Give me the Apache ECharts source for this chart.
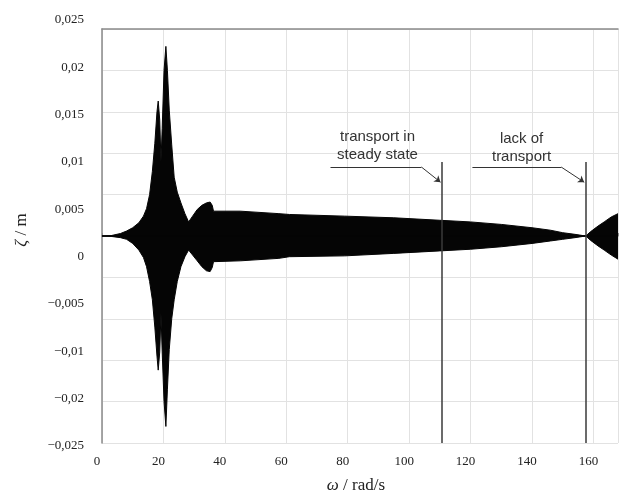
<!DOCTYPE html>
<html><head><meta charset="utf-8">
<script src="https://cdn.jsdelivr.net/npm/echarts@6/dist/echarts.min.js"></script>
<style>html,body{margin:0;padding:0;background:#fff}#c{width:619px;height:494px}</style>
</head><body><div id="c"></div>
<script>
// omega / rad/s
const omega = [0, 3, 6, 8, 10, 12, 13.5, 14.5, 15.5, 16.4, 17.2, 17.9, 18.3, 18.8, 19.2, 19.6, 20.2, 20.8, 21.3, 21.9, 22.7, 23.5, 24.5, 25.7, 27, 28.2, 29.5, 31, 32.5, 34, 35.2, 35.9, 36.3, 36.6, 45, 57.6, 61, 79, 95, 110, 120, 130, 140, 146, 150, 154, 157.5, 159, 161.5, 163.5, 165.8, 168];
// upper envelope of zeta / m
const upper = [0, 0.00005, 0.0003, 0.0006, 0.0010, 0.0016, 0.0024, 0.0033, 0.0050, 0.0078, 0.0112, 0.0150, 0.0163, 0.0140, 0.0090, 0.0130, 0.0200, 0.0229, 0.0200, 0.0152, 0.0110, 0.0071, 0.0053, 0.0040, 0.0027, 0.0017, 0.0024, 0.0032, 0.0037, 0.0040, 0.0041, 0.0037, 0.0030, 0.0032, 0.0030, 0.0027, 0.0026, 0.0024, 0.0022, 0.0019, 0.0017, 0.0014, 0.0010, 0.0007, 0.0004, 0.0002, 0, 0.0005, 0.0012, 0.0017, 0.0023, 0.0027];
// lower envelope of zeta / m
const lower = [0, -0.00005, -0.0002, -0.0004, -0.0009, -0.0017, -0.0026, -0.0037, -0.0055, -0.0077, -0.0110, -0.0145, -0.0162, -0.0140, -0.0093, -0.0140, -0.0200, -0.0230, -0.0185, -0.0137, -0.0100, -0.0077, -0.0055, -0.0037, -0.0025, -0.0017, -0.0023, -0.0030, -0.0037, -0.0042, -0.0043, -0.0038, -0.0031, -0.0033, -0.0030, -0.0027, -0.0025, -0.0024, -0.0021, -0.0018, -0.0016, -0.0013, -0.0009, -0.0006, -0.0004, -0.0002, 0, -0.0005, -0.0012, -0.0017, -0.0023, -0.0028];
// y tick labels (as printed in the original)
const yTickLabels = ['\u22120,025', '\u22120,02', '\u22120,01', '\u22120,005', '0', '0,005', '0,01', '0,015', '0,02', '0,025'];
// annotations
const markers = [110.5, 157.5];
const notes = ['transport in\nsteady state', 'lack of\ntransport'];

const chart = echarts.init(document.getElementById('c'), null, {renderer: 'canvas'});
const serif = '"Liberation Serif", "DejaVu Serif", serif';
const sans = '"Liberation Sans", Arial, sans-serif';
const up = omega.map((x, i) => [x, upper[i]]);
const lo = omega.map((x, i) => [x, lower[i]]);

chart.setOption({
  animation: false,
  backgroundColor: '#fff',
  grid: [
    {left: 102, right: 1, top: 29, bottom: 51, containLabel: false, outerBoundsMode: 'none'},
    {left: 102, right: 1, top: 20, bottom: 48, containLabel: false, outerBoundsMode: 'none'}
  ],
  xAxis: [
    {
      type: 'value', gridIndex: 0, min: 0, max: 168, interval: 20,
      axisLine: {show: true, lineStyle: {color: '#8a8a8a', width: 1.5}},
      axisTick: {show: true, inside: true, length: 3, lineStyle: {color: '#8a8a8a'}},
      splitLine: {show: true, lineStyle: {color: '#e2e2e2', width: 1}},
      axisLabel: {
        color: '#222', fontFamily: serif, fontSize: 13, margin: 12, padding: [0, 10, 0, 0],
        formatter: v => (v > 160 ? '' : String(v))
      },
      name: '{i|\u03c9} / rad/s', nameLocation: 'middle', nameGap: 34,
      nameTextStyle: {color: '#222', fontFamily: serif, fontSize: 17, padding: [0, 8, 0, 0],
        rich: {i: {fontStyle: 'italic', fontFamily: serif, fontSize: 17, color: '#222'}}}
    },
    {
      type: 'value', gridIndex: 0, position: 'top', min: 0, max: 168,
      axisLine: {show: true, lineStyle: {color: '#8a8a8a', width: 1.5}},
      axisTick: {show: false}, axisLabel: {show: false}, splitLine: {show: false}
    },
    {type: 'value', gridIndex: 1, show: false, min: 0, max: 1}
  ],
  yAxis: [
    {
      type: 'value', gridIndex: 0, min: -0.025, max: 0.025, interval: 0.005,
      axisLine: {show: true, lineStyle: {color: '#8a8a8a', width: 1.5}},
      axisTick: {show: false},
      splitLine: {show: true, lineStyle: {color: '#e2e2e2', width: 1}},
      axisLabel: {show: false},
      name: '{i|\u03b6} / m', nameLocation: 'middle', nameGap: 72, nameRotate: 90,
      nameTextStyle: {color: '#222', fontFamily: serif, fontSize: 17, padding: [0, 0, 0, 12],
        rich: {i: {fontStyle: 'italic', fontFamily: serif, fontSize: 17, color: '#222'}}}
    },
    {
      type: 'category', gridIndex: 1, data: yTickLabels, boundaryGap: false,
      axisLine: {show: false}, axisTick: {show: false}, splitLine: {show: false},
      axisLabel: {color: '#222', fontFamily: serif, fontSize: 13, margin: 18, interval: 0}
    }
  ],
  series: [
    {
      type: 'line', xAxisIndex: 0, yAxisIndex: 0, data: up, symbol: 'none', z: 3,
      lineStyle: {color: '#050505', width: 1}, areaStyle: {color: '#050505', opacity: 1},
      markLine: {
        silent: true, symbol: 'none', animation: false, label: {show: false},
        lineStyle: {color: '#050505', width: 1.5, type: 'solid'},
        data: [{yAxis: 0}]
      }
    },
    {
      type: 'line', xAxisIndex: 0, yAxisIndex: 0, data: lo, symbol: 'none', z: 3,
      lineStyle: {color: '#050505', width: 1}, areaStyle: {color: '#050505', opacity: 1}
    },
    {
      type: 'line', xAxisIndex: 0, yAxisIndex: 0, data: [], z: 5,
      markLine: {
        silent: true, symbol: 'none', animation: false,
        label: {show: false},
        lineStyle: {color: '#3a3a3a', width: 1.5, type: 'solid'},
        data: markers.map(m => [{coord: [m, 0.00894]}, {coord: [m, -0.025]}])
      },
      markPoint: {
        silent: true, symbol: 'circle', symbolSize: 0,
        label: {show: true, formatter: '{b}', color: '#333', fontFamily: sans, fontSize: 15, lineHeight: 18, align: 'center', verticalAlign: 'middle'},
        data: [
          {name: notes[0], coord: [89.7, 0.0109]},
          {name: notes[1], coord: [136.6, 0.0106]}
        ]
      }
    },
    {
      type: 'line', xAxisIndex: 0, yAxisIndex: 0, data: [], z: 5,
      markLine: {
        silent: true, symbol: 'none', animation: false,
        label: {show: false},
        lineStyle: {color: '#333', width: 1, type: 'solid'},
        data: [
          [{coord: [74.4, 0.00833]}, {coord: [104.0, 0.00833]}],
          [{coord: [120.6, 0.00833]}, {coord: [149.5, 0.00833]}]
        ]
      }
    },
    {
      type: 'line', xAxisIndex: 0, yAxisIndex: 0, data: [], z: 5,
      markLine: {
        silent: true, symbol: ['none', 'arrow'], symbolSize: 6, animation: false,
        label: {show: false},
        lineStyle: {color: '#333', width: 1, type: 'solid'},
        data: [
          [{coord: [104.0, 0.00833]}, {coord: [110.2, 0.0065]}],
          [{coord: [149.5, 0.00833]}, {coord: [157.0, 0.0065]}]
        ]
      }
    }
  ]
});
</script>
</body></html>
